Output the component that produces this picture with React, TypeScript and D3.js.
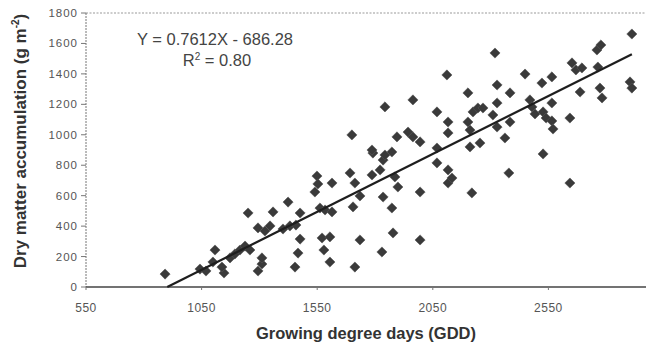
import * as d3 from 'd3';

// GDD (x) and dry matter (y)
const gdd = [
  892, 1043, 1069, 1108, 1099, 1147, 1138, 1173, 1194, 1216,
  1238, 1259, 1251, 1294, 1311, 1311, 1294, 1324, 1346, 1359,
  1402, 1424, 1432, 1458, 1476, 1476, 1467, 1454, 1549, 1553,
  1540, 1614, 1562, 1584, 1614, 1571, 1605, 1579, 1605, 1692,
  1713, 1705, 1735, 1735, 1713, 1787, 1791, 1822, 1835, 1835,
  1873, 1830, 1878, 1700, 1787, 1843, 1873, 1895, 1943, 1964,
  1995, 1843, 1964, 2068, 2111, 2116, 2116, 2068, 2068, 2116,
  2116, 2133, 2202, 2224, 2245, 2267, 2202, 2211, 2211, 2254,
  2319, 2328, 2328, 2310, 2328, 2362, 2384, 2384, 2379,
  2449, 2470, 2479, 2492, 2522, 2565, 2527, 2540, 2565, 2565,
  2570, 2527, 2643, 2652, 2669, 2695, 2687, 2760, 2777, 2764,
  2773, 2782, 2911, 2903, 2911, 2219, 2643, 1995, 1995, 1886, 1899,
];
const dryMatter = [
  85, 118, 105, 243, 164, 92, 131, 191, 217, 243,
  269, 243, 486, 105, 151, 191, 388, 368, 401, 493,
  381, 558, 401, 407, 486, 315, 223, 131, 729, 677,
  624, 683, 519, 506, 493, 322, 329, 243, 164, 749,
  683, 526, 598, 309, 131, 736, 880, 769, 591, 834,
  519, 230, 355, 999, 900, 867, 887, 986, 1018, 986,
  953, 1183, 1229, 1150, 1393, 1084, 1012, 913, 815, 769,
  683, 716, 1275, 1150, 1176, 1176, 1084, 1031, 920, 946,
  1537, 1327, 1209, 1130, 1051, 979, 1275, 1084, 749,
  1399, 1229, 1183, 1137, 1340, 1380, 1150, 1110, 1209, 1091,
  1038, 874, 1110, 1472, 1426, 1439, 1281, 1557, 1590, 1445,
  1307, 1242, 1662, 1347, 1307, 618, 683, 624, 309, 723, 657,
];
const xTicks = [550, 1050, 1550, 2050, 2550];
const yTicks = [0, 200, 400, 600, 800, 1000, 1200, 1400, 1600, 1800];
const slope = 0.7612;
const intercept = -686.28;

export default function App() {
  const W = 646, H = 349;
  // axis runs on to 3050, past the right edge of the picture
  const x = d3.scaleLinear().domain([550, 3050]).range([86, 664]);
  const y = d3.scaleLinear().domain([0, 1800]).range([287, 13]);
  const diamond = d3.symbol().type(d3.symbolDiamond2).size(66)()!;

  const x0 = -intercept / slope;
  const x1 = d3.max(gdd)!;
  const font = 'Arial, "Liberation Sans", sans-serif';

  return (
    <svg width={W} height={H} style={{ position: 'absolute', left: 0, top: 0, background: '#fff' }}>
      {/* frame */}
      <line x1={86} x2={W} y1={y(1800)} y2={y(1800)} stroke="#999" strokeDasharray="2,1.5" />
      <line x1={86} x2={86} y1={y(1800)} y2={y(0)} stroke="#777" strokeDasharray="2,1" />
      <line x1={86} x2={W} y1={y(0)} y2={y(0)} stroke="#444" strokeWidth={1.3} />

      {yTicks.map(t => (
        <g key={t}>
          <line x1={81} x2={86} y1={y(t)} y2={y(t)} stroke="#777" />
          <text x={78} y={y(t) + 4} textAnchor="end" fontFamily={font} fontSize={11.5}
            letterSpacing={1} fill="#555">{t}</text>
        </g>
      ))}
      {xTicks.map(t => (
        <g key={t}>
          <line x1={x(t)} x2={x(t)} y1={y(0)} y2={y(0) + 3} stroke="#777" />
          <text x={x(t)} y={312} textAnchor="middle" fontFamily={font} fontSize={12}
            letterSpacing={0.5} fill="#555">{t}</text>
        </g>
      ))}

      {gdd.map((g, i) => (
        <path key={i} d={diamond} transform={`translate(${x(g)},${y(dryMatter[i])})`}
          fill="#3a3a3a" stroke="#555" strokeWidth={0.6} />
      ))}

      <line x1={x(x0)} y1={y(0)} x2={x(x1)} y2={y(slope * x1 + intercept)}
        stroke="#1e1e1e" strokeWidth={2.2} />

      <text x={215} y={45} textAnchor="middle" fontFamily={font} fontSize={16.5} fill="#444">
        Y = 0.7612X - 686.28
      </text>
      <text x={217} y={66} textAnchor="middle" fontFamily={font} fontSize={16.5} fill="#444">
        R<tspan dy={-6} fontSize={10}>2</tspan><tspan dy={6}> = 0.80</tspan>
      </text>

      <text x={366} y={339} textAnchor="middle" fontFamily={font} fontSize={16.5}
        fontWeight="bold" fill="#333">Growing degree days (GDD)</text>
      <text transform="translate(26,141) rotate(-90)" textAnchor="middle" fontFamily={font}
        fontSize={17} fontWeight="bold" fill="#333">
        Dry matter accumulation (g m<tspan dy={-7} fontSize={10}>-2</tspan><tspan dy={7}>)</tspan>
      </text>
    </svg>
  );
}
